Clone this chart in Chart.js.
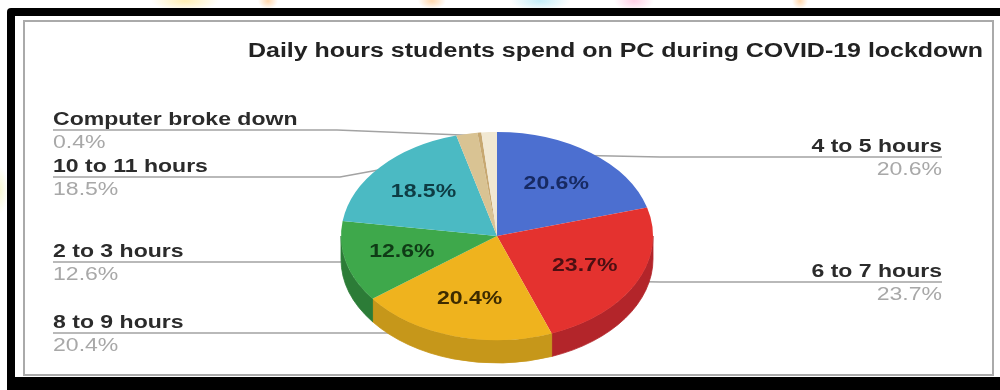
<!DOCTYPE html>
<html>
<head>
<meta charset="utf-8">
<title>Daily hours students spend on PC during COVID-19 lockdown</title>
<script src="https://cdn.jsdelivr.net/npm/chart.js@4.4.1/dist/chart.umd.min.js"></script>
<style>
  html, body { margin: 0; padding: 0; }
  body {
    width: 1000px;
    height: 390px;
    overflow: hidden;
    background:
      radial-gradient(ellipse 34px 10px at 185px 1px, rgba(255, 228, 130, 0.6), rgba(255, 228, 130, 0) 100%),
      radial-gradient(ellipse 10px 8px at 268px 1px, rgba(255, 190, 120, 0.6), rgba(255, 190, 120, 0) 100%),
      radial-gradient(ellipse 14px 8px at 432px 1px, rgba(255, 190, 120, 0.6), rgba(255, 190, 120, 0) 100%),
      radial-gradient(ellipse 30px 10px at 540px 1px, rgba(150, 225, 245, 0.55), rgba(150, 225, 245, 0) 100%),
      radial-gradient(ellipse 20px 10px at 634px 1px, rgba(255, 170, 210, 0.55), rgba(255, 170, 210, 0) 100%),
      radial-gradient(ellipse 8px 8px at 800px 1px, rgba(255, 190, 120, 0.6), rgba(255, 190, 120, 0) 100%),
      radial-gradient(ellipse 8px 24px at 0px 190px, rgba(245, 245, 190, 0.7), rgba(245, 245, 190, 0) 100%),
      #ffffff;
  }
  canvas { display: block; }
</style>
</head>
<body>
<canvas id="pie" width="1000" height="390"></canvas>
<script>
// survey answers, clockwise from 12 o'clock
const categories = ['4 to 5 hours', '6 to 7 hours', '8 to 9 hours', '2 to 3 hours',
                    '10 to 11 hours', '', 'Computer broke down', ''];
const shares = [20.6, 23.7, 20.4, 12.6, 18.5, 2.2, 0.4, 1.6];

const sliceColors = ['#4c6fd0', '#e4322f', '#efb31e', '#3ea84b', '#4bbac3', '#d9c393', '#c7a871', '#f1e8d2'];
const sideColors  = ['#34509e', '#b3252a', '#c6971a', '#2c7c37', '#37909a', '#b39d6f', '#a38655', '#cfc4aa'];
const innerTextColors = ['#172a63', '#4c0f12', '#3d2b00', '#0f3b16', '#0e3c44'];

const TITLE = 'Daily hours students spend on PC during COVID-19 lockdown';
const FONT = '"Liberation Sans", Arial, sans-serif';
const TEXT_STRETCH = 1.28;   // the chart text is drawn a bit wide

// where the tilted pie sits and how flat it is
const PIE_CX = 497;
const PIE_CY = 236;
const TILT = 0.667;
const DEPTH = 23;

// callout rows: which side they sit on and the y of their underline
const callouts = [
  { name: 'Computer broke down', side: 'left', lineY: 130, knee: 337 },
  { name: '10 to 11 hours', side: 'left', lineY: 177, knee: 340 },
  { name: '2 to 3 hours', side: 'left', lineY: 262, knee: 340 },
  { name: '8 to 9 hours', side: 'left', lineY: 333, knee: 340 },
  { name: '4 to 5 hours', side: 'right', lineY: 157, knee: 660 },
  { name: '6 to 7 hours', side: 'right', lineY: 282, knee: 660 }
];
const LEFT_X = 53;
const RIGHT_X = 942;

function stretchText(ctx, text, x, y, align) {
  ctx.save();
  ctx.translate(x, y);
  ctx.scale(TEXT_STRETCH, 1);
  ctx.textAlign = align;
  ctx.fillText(text, 0, 0);
  ctx.restore();
}

function fmtPct(v) {
  return v.toFixed(1) + '%';
}

// point on the rim of the top face for a given arc angle
function rimPoint(arc, angle, frac) {
  const rx = arc.outerRadius * frac;
  const ry = arc.outerRadius * TILT * frac;
  return { x: PIE_CX + rx * Math.cos(angle), y: PIE_CY + ry * Math.sin(angle) };
}

// framed white card with a black border
const framePlugin = {
  id: 'frame',
  beforeDraw(chart) {
    const ctx = chart.ctx;
    ctx.save();
    ctx.fillStyle = '#000';
    ctx.beginPath();
    ctx.roundRect(7, 8, 1010, 400, 4);
    ctx.fill();
    ctx.fillStyle = '#fff';
    ctx.fillRect(15, 16, 990, 361);
    ctx.strokeStyle = '#aaaaaa';
    ctx.lineWidth = 2;
    ctx.strokeRect(24, 21, 969, 354);

    ctx.fillStyle = '#222';
    ctx.font = 'bold 19.5px ' + FONT;
    ctx.textBaseline = 'alphabetic';
    stretchText(ctx, TITLE, 248, 57, 'left');
    ctx.restore();
  }
};

// leader lines, side walls, then squash the pie into an ellipse
const tiltPlugin = {
  id: 'tilt',
  beforeDatasetsDraw(chart) {
    const ctx = chart.ctx;
    const arcs = chart.getDatasetMeta(0).data;

    ctx.save();
    ctx.strokeStyle = '#a3a3a3';
    ctx.lineWidth = 1.5;
    callouts.forEach(c => {
      const i = categories.indexOf(c.name);
      const arc = arcs[i];
      const mid = (arc.startAngle + arc.endAngle) / 2;
      const p = rimPoint(arc, mid, 0.97);
      const startX = c.side === 'left' ? LEFT_X : RIGHT_X;
      ctx.beginPath();
      ctx.moveTo(startX, c.lineY);
      ctx.lineTo(c.knee, c.lineY);
      ctx.lineTo(p.x, p.y);
      ctx.stroke();
    });

    // front walls of the slices that face the viewer
    arcs.forEach((arc, i) => {
      const a0 = Math.max(arc.startAngle, 0);
      const a1 = Math.min(arc.endAngle, Math.PI);
      if (a1 <= a0) return;
      const rx = arc.outerRadius;
      const ry = rx * TILT;
      ctx.beginPath();
      ctx.ellipse(PIE_CX, PIE_CY, rx, ry, 0, a0, a1, false);
      ctx.ellipse(PIE_CX, PIE_CY + DEPTH, rx, ry, 0, a1, a0, true);
      ctx.closePath();
      ctx.fillStyle = sideColors[i];
      ctx.fill();
      ctx.strokeStyle = sideColors[i];
      ctx.lineWidth = 0.8;
      ctx.stroke();
    });
    ctx.restore();
  },
  beforeDatasetDraw(chart) {
    const ctx = chart.ctx;
    const arc = chart.getDatasetMeta(0).data[0];
    ctx.save();
    ctx.translate(PIE_CX, PIE_CY);
    ctx.scale(1, TILT);
    ctx.translate(-arc.x, -arc.y);
  },
  afterDatasetDraw(chart) {
    chart.ctx.restore();
  }
};

// percentages on the slices and the callout labels
const labelPlugin = {
  id: 'labels',
  afterDatasetsDraw(chart) {
    const ctx = chart.ctx;
    const arcs = chart.getDatasetMeta(0).data;
    ctx.save();
    ctx.textBaseline = 'middle';
    ctx.font = 'bold 18px ' + FONT;
    innerTextColors.forEach((color, i) => {
      const arc = arcs[i];
      const mid = (arc.startAngle + arc.endAngle) / 2;
      const p = rimPoint(arc, mid, 0.63);
      ctx.fillStyle = color;
      stretchText(ctx, fmtPct(shares[i]), p.x, p.y, 'center');
    });

    ctx.textBaseline = 'alphabetic';
    callouts.forEach(c => {
      const i = categories.indexOf(c.name);
      const x = c.side === 'left' ? LEFT_X : RIGHT_X;
      const align = c.side === 'left' ? 'left' : 'right';
      ctx.font = 'bold 18px ' + FONT;
      ctx.fillStyle = '#2b2b2b';
      stretchText(ctx, c.name, x, c.lineY - 5, align);
      ctx.font = '18px ' + FONT;
      ctx.fillStyle = '#a8a8a8';
      stretchText(ctx, fmtPct(shares[i]), x, c.lineY + 18, align);
    });
    ctx.restore();
  }
};

new Chart(document.getElementById('pie'), {
  type: 'pie',
  data: {
    labels: categories,
    datasets: [{
      data: shares,
      backgroundColor: sliceColors,
      borderWidth: 0
    }]
  },
  options: {
    responsive: false,
    animation: false,
    events: [],
    layout: { padding: { left: 341, right: 347, top: 30, bottom: 30 } },
    plugins: {
      legend: { display: false },
      tooltip: { enabled: false }
    }
  },
  plugins: [framePlugin, tiltPlugin, labelPlugin]
});
</script>
</body>
</html>
